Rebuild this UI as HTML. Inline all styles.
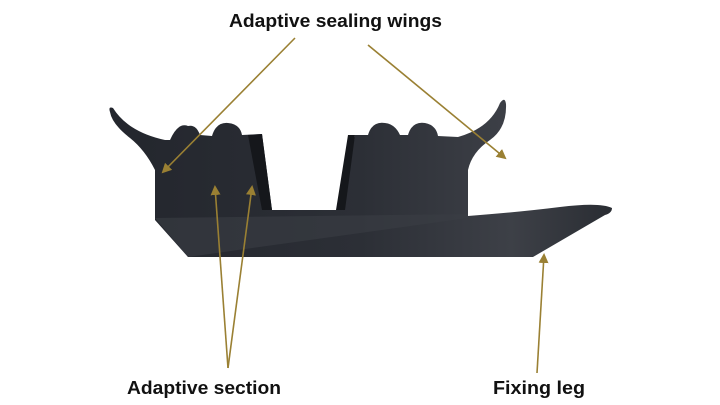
<!DOCTYPE html>
<html><head><style>body{margin:0;background:#fff}svg{display:block}</style></head>
<body>
<svg width="720" height="405" viewBox="0 0 720 405" xmlns="http://www.w3.org/2000/svg">
<defs>
<linearGradient id="g" x1="0" y1="0" x2="1" y2="0">
<stop offset="0" stop-color="#23262d"/><stop offset="0.5" stop-color="#2c2f36"/><stop offset="0.8" stop-color="#3d4047"/><stop offset="1" stop-color="#2a2d33"/>
</linearGradient>
<marker id="a" markerWidth="10" markerHeight="10" refX="8" refY="5" orient="auto" markerUnits="userSpaceOnUse">
<path d="M0,0 L10,5 L0,10 z" fill="#9a8033"/></marker>
</defs>
<path fill="url(#g)" d="M110,112 Q108,106 113,108 Q128,132 165,140 L170,140 Q178,122 188,126 Q196,124 200,135 L212,136 Q216,122 228,123 Q240,124 242,135 L262,134 L272,210 L340,210 L355,135 L368,135 Q372,121 385,123 Q395,124 400,135 L408,135 Q412,121 425,123 Q436,125 438,136 L458,137 Q490,128 500,103 Q505,96 506,104 Q507,128 490,140 Q472,152 468,170 L468,216 Q520,212 560,207 Q600,202 612,208 Q612,213 605,215 L533,257 L188,257 L155,220 L155,170 Q145,150 130,138 Q112,124 110,112 Z"/>
<path fill="#15171b" d="M248,135 L262,134 L272,210 L262,210 Z M355,135 L348,135 L336,210 L345,210 Z"/>
<path fill="#3a3d44" opacity="0.6" d="M155,218 L468,214 L468,218 L188,257 Z"/>
<g stroke="#9a8033" stroke-width="1.6" fill="none" marker-end="url(#a)">
<line x1="295" y1="38" x2="163" y2="172"/>
<line x1="368" y1="45" x2="505" y2="158"/>
<line x1="228" y1="368" x2="215" y2="187"/>
<line x1="228" y1="368" x2="252" y2="187"/>
<line x1="537" y1="373" x2="544" y2="255"/>
</g>
<g font-family="Liberation Sans, sans-serif" font-weight="bold" font-size="18" fill="#111">
<text x="229" y="27" textLength="213" lengthAdjust="spacingAndGlyphs">Adaptive sealing wings</text>
<text x="127" y="394" textLength="154" lengthAdjust="spacingAndGlyphs">Adaptive section</text>
<text x="493" y="394" textLength="92" lengthAdjust="spacingAndGlyphs">Fixing leg</text>
</g>
</svg>
</body></html>
